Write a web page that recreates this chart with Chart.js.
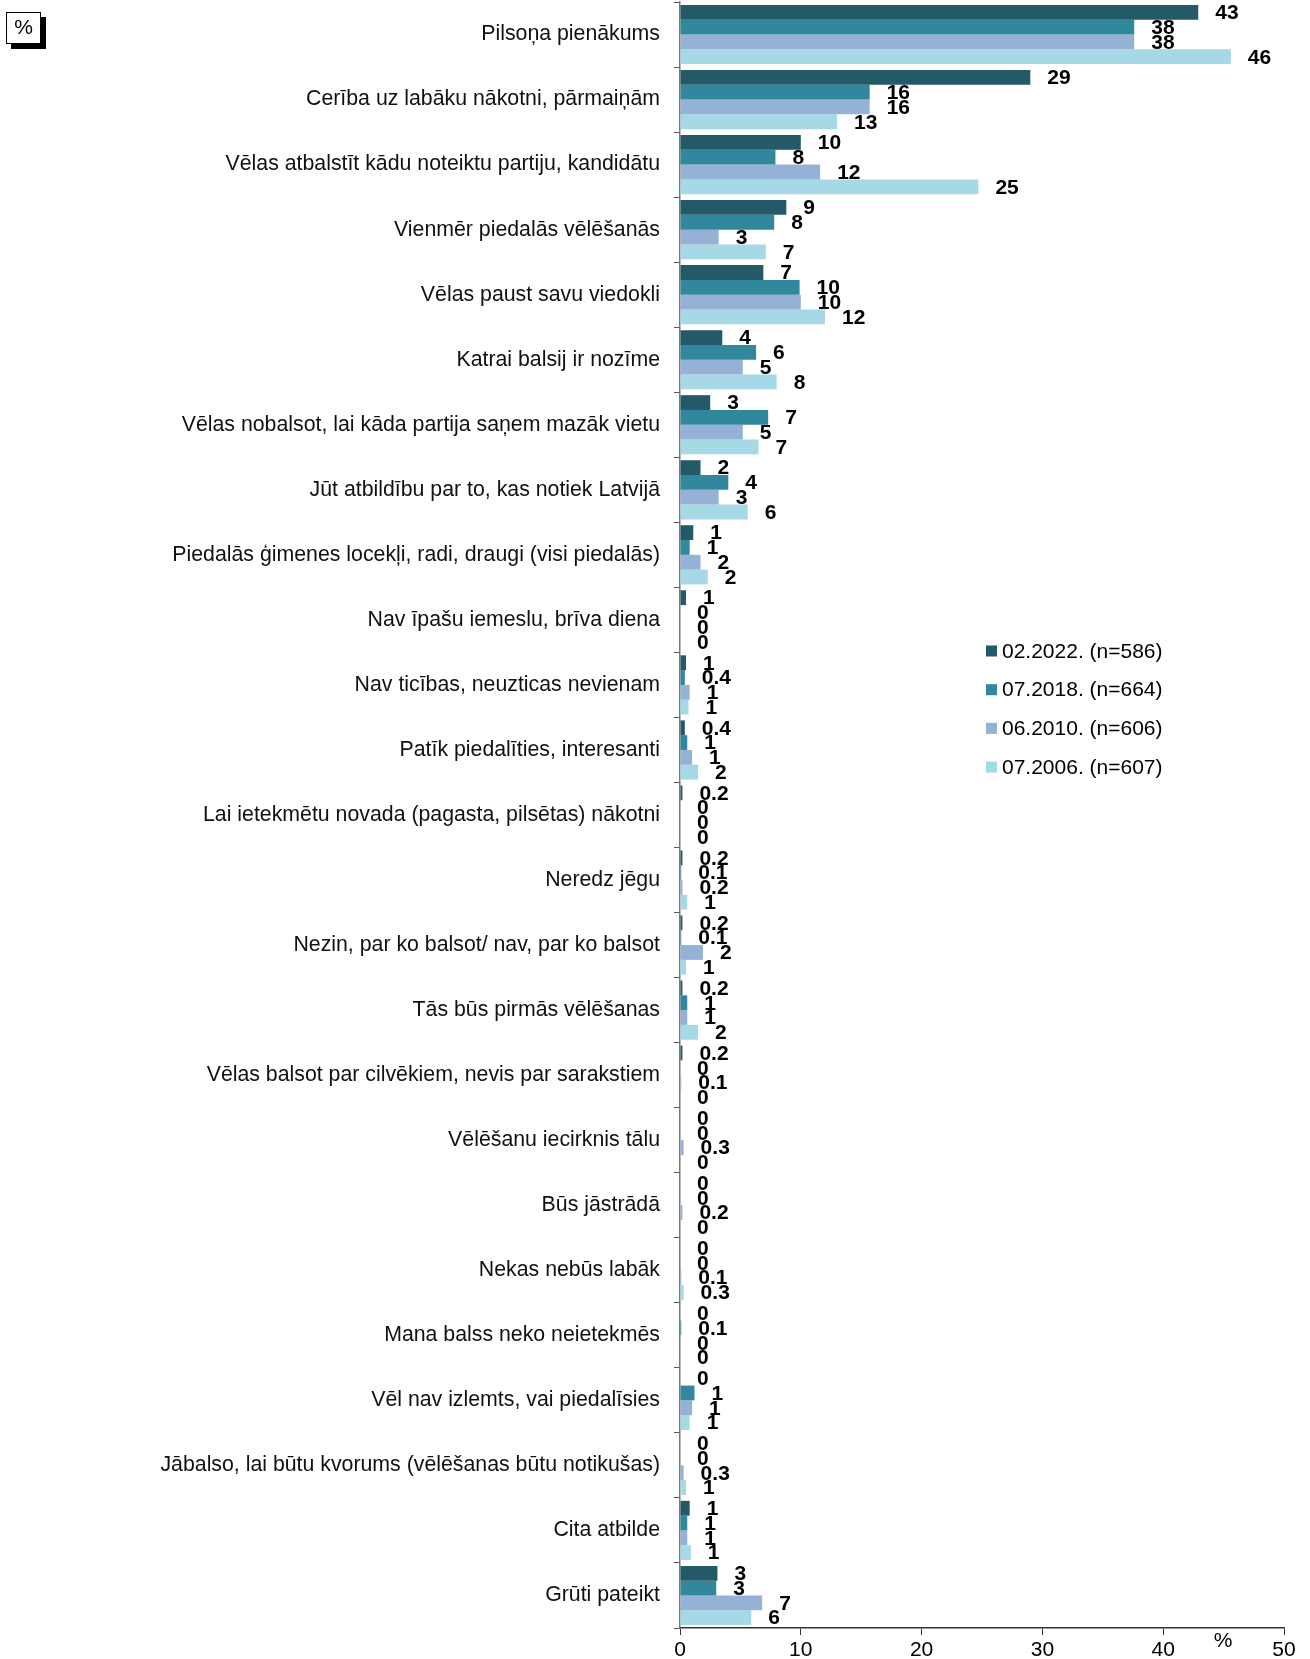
<!DOCTYPE html>
<html>
<head>
<meta charset="utf-8">
<script src="https://cdn.jsdelivr.net/npm/chart.js@4/dist/chart.umd.min.js"></script>
<style>
  html, body { margin: 0; padding: 0; background: #fff; }
  #wrap { position: relative; width: 1310px; height: 1659px; }
  #pctBox {
    position: absolute; left: 6px; top: 12px; width: 33px; height: 30px;
    border: 1px solid #000; background: #fff; box-shadow: 5px 5px 0 #000;
    font: 21px "Liberation Sans", Arial, sans-serif; text-align: center; line-height: 27px;
  }
</style>
</head>
<body>
<div id="wrap">
  <canvas id="chart"></canvas>
  <div id="pctBox">%</div>
</div>
<script>
/* ── DATA ─────────────────────────────────────── */
const categories = [
    'Pilsoņa pienākums',
    'Cerība uz labāku nākotni, pārmaiņām',
    'Vēlas atbalstīt kādu noteiktu partiju, kandidātu',
    'Vienmēr piedalās vēlēšanās',
    'Vēlas paust savu viedokli',
    'Katrai balsij ir nozīme',
    'Vēlas nobalsot, lai kāda partija saņem mazāk vietu',
    'Jūt atbildību par to, kas notiek Latvijā',
    'Piedalās ģimenes locekļi, radi, draugi (visi piedalās)',
    'Nav īpašu iemeslu, brīva diena',
    'Nav ticības, neuzticas nevienam',
    'Patīk piedalīties, interesanti',
    'Lai ietekmētu novada (pagasta, pilsētas) nākotni',
    'Neredz jēgu',
    'Nezin, par ko balsot/ nav, par ko balsot',
    'Tās būs pirmās vēlēšanas',
    'Vēlas balsot par cilvēkiem, nevis par sarakstiem',
    'Vēlēšanu iecirknis tālu',
    'Būs jāstrādā',
    'Nekas nebūs labāk',
    'Mana balss neko neietekmēs',
    'Vēl nav izlemts, vai piedalīsies',
    'Jābalso, lai būtu kvorums (vēlēšanas būtu notikušas)',
    'Cita atbilde',
    'Grūti pateikt'
];

const seriesNames = ['02.2022. (n=586)', '07.2018. (n=664)', '06.2010. (n=606)', '07.2006. (n=607)'];
const seriesColors = ['#245968', '#31879c', '#95b2d6', '#a6d8e5'];

const s2022 = [42.9, 29.0, 10.0, 8.8, 6.9, 3.5, 2.5, 1.7, 1.1, 0.5, 0.5, 0.4, 0.2, 0.2, 0.2, 0.2, 0.2, 0, 0, 0, 0, 0, 0, 0.8, 3.1];
const s2018 = [37.6, 15.7, 7.9, 7.8, 9.9, 6.3, 7.3, 4.0, 0.8, 0, 0.4, 0.6, 0, 0.1, 0.1, 0.6, 0, 0, 0, 0, 0.1, 1.2, 0, 0.6, 3.0];
const s2010 = [37.6, 15.7, 11.6, 3.2, 10.0, 5.2, 5.2, 3.2, 1.7, 0, 0.8, 1.0, 0, 0.2, 1.9, 0.6, 0.1, 0.3, 0.2, 0.1, 0, 1.0, 0.3, 0.6, 6.8];
const s2006 = [45.6, 13.0, 24.7, 7.1, 12.0, 8.0, 6.5, 5.6, 2.3, 0, 0.7, 1.5, 0, 0.6, 0.5, 1.5, 0, 0, 0, 0.3, 0, 0.8, 0.5, 0.9, 5.9];

const xTicks = [0, 10, 20, 30, 40, 50];

const FONT = '"Liberation Sans", Arial, sans-serif';

function fmt(v) {
    if (v === 0) return '0';
    if (v < 0.5) return v.toFixed(1);
    return String(Math.round(v));
}

/* ── PLUGINS ──────────────────────────────────── */
const valueLabels = {
    id: 'valueLabels',
    afterDatasetsDraw(chart) {
        const ctx = chart.ctx;
        ctx.save();
        ctx.font = 'bold 21px ' + FONT;
        ctx.fillStyle = '#000';
        ctx.textAlign = 'left';
        ctx.textBaseline = 'middle';
        chart.data.datasets.forEach((ds, i) => {
            chart.getDatasetMeta(i).data.forEach((bar, j) => {
                ctx.fillText(fmt(ds.data[j]), bar.x + 17, bar.y + 1);
            });
        });
        ctx.restore();
    }
};

const extras = {
    id: 'extras',
    afterDraw(chart) {
        const ctx = chart.ctx;
        ctx.save();
        // axis unit
        ctx.font = '21px ' + FONT;
        ctx.fillStyle = '#000';
        ctx.textAlign = 'center';
        ctx.textBaseline = 'middle';
        ctx.fillText('%', 1223, 1641);
        // legend
        chart.data.datasets.forEach((ds, i) => {
            const y = 651 + i * 38.7;
            ctx.fillStyle = ds.backgroundColor;
            ctx.fillRect(986, y - 5.5, 11, 11);
            ctx.fillStyle = '#000';
            ctx.textAlign = 'left';
            ctx.fillText(ds.label, 1002, y + 1);
        });
        ctx.restore();
    }
};

/* ── CHART ────────────────────────────────────── */
new Chart(document.getElementById('chart'), {
    type: 'bar',
    data: {
        labels: categories,
        datasets: [s2022, s2018, s2010, s2006].map((d, i) => ({
            label: seriesNames[i],
            data: d,
            backgroundColor: seriesColors[i],
            barPercentage: 1,
            categoryPercentage: 0.91
        }))
    },
    options: {
        indexAxis: 'y',
        responsive: true,
        maintainAspectRatio: false,
        animation: false,
        layout: { padding: { left: 0, right: 26, top: 2, bottom: 0 } },
        plugins: {
            legend: { display: false },
            tooltip: { enabled: false }
        },
        scales: {
            x: {
                min: 0,
                max: 50,
                afterBuildTicks: s => { s.ticks = xTicks.map(v => ({ value: v })); },
                afterFit: s => { s.height = 31; s.paddingLeft = 0; s.paddingRight = 0; },
                grid: { drawOnChartArea: false, drawTicks: true, tickLength: 7, color: '#333' },
                border: { color: '#333', width: 1.5 },
                ticks: { color: '#000', font: { family: FONT, size: 21 }, padding: 3, maxRotation: 0 }
            },
            y: {
                afterFit: s => { s.width = 680; s.paddingTop = 0; s.paddingBottom = 0; },
                grid: { drawOnChartArea: false, drawTicks: true, tickLength: 6, color: '#555', offset: true },
                border: { color: '#777', width: 1.5 },
                ticks: { color: '#111', font: { family: FONT, size: 21.3 }, padding: 14, autoSkip: false }
            }
        }
    },
    plugins: [valueLabels, extras]
});
</script>
</body>
</html>
